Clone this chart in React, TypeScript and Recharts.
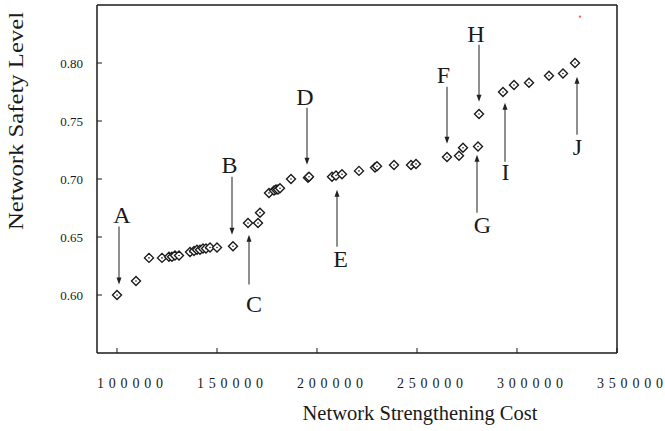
import { ScatterChart, Scatter, XAxis, YAxis, ReferenceLine, ReferenceDot } from "recharts";

// strengthening cost vs. safety level
const costs = [
  100000, 109500, 116000, 122500, 126000, 127500, 129000, 131000, 136500, 138500,
  140000, 141500, 143000, 144500, 146500, 150000, 158000, 165500, 170500, 171500,
  176000, 178500, 179500, 180500, 181500, 187000, 195500, 196000, 207500, 209500,
  212500, 221000, 229000, 230000, 238500, 247000, 249500, 265000, 271000, 273000,
  280500, 281000, 293000, 298500, 306000, 316000, 323000, 329000,
];
const levels = [
  0.6, 0.612, 0.632, 0.632, 0.633, 0.633, 0.634, 0.634, 0.637, 0.638,
  0.639, 0.639, 0.64, 0.64, 0.641, 0.641, 0.642, 0.662, 0.662, 0.671,
  0.688, 0.69, 0.691, 0.691, 0.692, 0.7, 0.701, 0.702, 0.702, 0.703,
  0.704, 0.707, 0.71, 0.711, 0.712, 0.712, 0.713, 0.719, 0.72, 0.727,
  0.728, 0.756, 0.775, 0.781, 0.783, 0.789, 0.791, 0.8,
];

const xTicks = [100000, 150000, 200000, 250000, 300000, 350000];
const yTicks = [0.6, 0.65, 0.7, 0.75, 0.8];

// annotations: letter + vertical arrow (tip at arrowTo)
const letters = ["A", "B", "C", "D", "E", "F", "G", "H", "I", "J"];
const letterCost = [102500, 156250, 168500, 194000, 211750, 263250, 282750, 279500, 294250, 330250];
const letterLevel = [0.6623, 0.7054, 0.585, 0.764, 0.6244, 0.783, 0.6537, 0.8184, 0.6994, 0.721];
const arrowCost = [101000, 157500, 166000, 195000, 210000, 265000, 280000, 281000, 294000, 330000];
const arrowFrom = [0.659, 0.702, 0.609, 0.7615, 0.6416, 0.7796, 0.671, 0.8158, 0.7149, 0.7382];
const arrowTo = [0.609, 0.652, 0.652, 0.7123, 0.6908, 0.7304, 0.721, 0.7666, 0.7658, 0.7882];

const data = costs.map((c, i) => ({ cost: c, level: levels[i] }));

const FONT = "'Liberation Serif', 'Times New Roman', serif";
const INK = "#1a1a1a";

const Diamond = (props: any) => {
  const { cx, cy } = props;
  const r = 4.5;
  return (
    <g>
      <polygon
        points={`${cx},${cy - r} ${cx + r},${cy} ${cx},${cy + r} ${cx - r},${cy}`}
        fill="#fff"
        stroke={INK}
        strokeWidth={1.4}
      />
      <circle cx={cx} cy={cy} r={0.8} fill={INK} />
    </g>
  );
};

const Arrow = (props: any) => {
  const { x1, y1, x2, y2 } = props;
  const dir = y2 > y1 ? 1 : -1;
  return (
    <g>
      <line x1={x1} y1={y1} x2={x2} y2={y2 - dir * 3} stroke="#333" strokeWidth={1.1} />
      <polygon
        points={`${x2},${y2} ${x2 - 2.5},${y2 - dir * 7} ${x2 + 2.5},${y2 - dir * 7}`}
        fill="#222"
      />
    </g>
  );
};

// inward tick marks, labels drawn by hand (spread out like the original)
const BottomTick = (props: any) => {
  const { x, y, payload } = props;
  return (
    <g>
      <line x1={x} y1={y} x2={x} y2={y - 5} stroke={INK} />
      <text
        x={x - 20}
        y={y + 35}
        fontFamily={FONT}
        fontSize={14}
        textLength={66}
        lengthAdjust="spacing"
        fill={INK}
      >
        {payload.value}
      </text>
    </g>
  );
};

const TopTick = (props: any) => {
  const { x, y } = props;
  return <line x1={x} y1={y} x2={x} y2={y + 5} stroke={INK} />;
};

const LeftTick = (props: any) => {
  const { x, y, payload } = props;
  return (
    <g>
      <line x1={x} y1={y} x2={x + 5} y2={y} stroke={INK} />
      <text x={x - 14} y={y + 5} textAnchor="end" fontFamily={FONT} fontSize={13} fill={INK}>
        {Number(payload.value).toFixed(2)}
      </text>
    </g>
  );
};

const RightTick = (props: any) => {
  const { x, y } = props;
  return <line x1={x} y1={y} x2={x - 5} y2={y} stroke={INK} />;
};

export default function App() {
  return (
    <div style={{ position: "absolute", left: 0, top: 0, background: "#fff" }}>
      <ScatterChart
        width={665}
        height={431}
        margin={{ top: 0, right: 40, left: 37, bottom: 38 }}
      >
        <XAxis
          type="number"
          dataKey="cost"
          domain={[90000, 350000]}
          ticks={xTicks}
          interval={0}
          height={40}
          tickSize={0}
          tickMargin={0}
          tickLine={false}
          tick={<BottomTick />}
          axisLine={{ stroke: INK, strokeWidth: 1.5 }}
          label={() => (
            <text
              x={420}
              y={420}
              textAnchor="middle"
              fontFamily={FONT}
              fontSize={21}
              textLength={235}
              lengthAdjust="spacingAndGlyphs"
              fill={INK}
            >
              Network Strengthening Cost
            </text>
          )}
        />
        <XAxis
          xAxisId="top"
          orientation="top"
          type="number"
          domain={[90000, 350000]}
          ticks={xTicks}
          interval={0}
          height={5}
          tickSize={0}
          tickMargin={0}
          tickLine={false}
          tick={<TopTick />}
          axisLine={{ stroke: INK, strokeWidth: 1.5 }}
        />
        <YAxis
          type="number"
          dataKey="level"
          domain={[0.55, 0.85]}
          ticks={yTicks}
          interval={0}
          width={60}
          tickSize={0}
          tickMargin={0}
          tickLine={false}
          tick={<LeftTick />}
          axisLine={{ stroke: INK, strokeWidth: 1.5 }}
          label={() => (
            <text
              x={23}
              y={121}
              transform="rotate(-90 23 121)"
              textAnchor="middle"
              fontFamily={FONT}
              fontSize={21}
              textLength={218}
              lengthAdjust="spacingAndGlyphs"
              fill={INK}
            >
              Network Safety Level
            </text>
          )}
        />
        <YAxis
          yAxisId="right"
          orientation="right"
          type="number"
          domain={[0.55, 0.85]}
          ticks={yTicks}
          interval={0}
          width={8}
          tickSize={0}
          tickMargin={0}
          tickLine={false}
          tick={<RightTick />}
          axisLine={{ stroke: INK, strokeWidth: 1.5 }}
        />

        {letters.map((l, i) => (
          <ReferenceLine
            key={`arrow-${l}`}
            segment={[
              { x: arrowCost[i], y: arrowFrom[i] },
              { x: arrowCost[i], y: arrowTo[i] },
            ]}
            shape={Arrow}
          />
        ))}

        {letters.map((l, i) => (
          <ReferenceDot
            key={`letter-${l}`}
            x={letterCost[i]}
            y={letterLevel[i]}
            shape={(p: any) => (
              <text x={p.cx} y={p.cy} textAnchor="middle" fontFamily={FONT} fontSize={24} fill={INK}>
                {l}
              </text>
            )}
          />
        ))}

        {/* small red speck in the top right of the original */}
        <ReferenceDot x={331500} y={0.84} r={1.2} fill="#ff5a5a" stroke="none" />

        <Scatter data={data} shape={Diamond} isAnimationActive={false} />
      </ScatterChart>
    </div>
  );
}
